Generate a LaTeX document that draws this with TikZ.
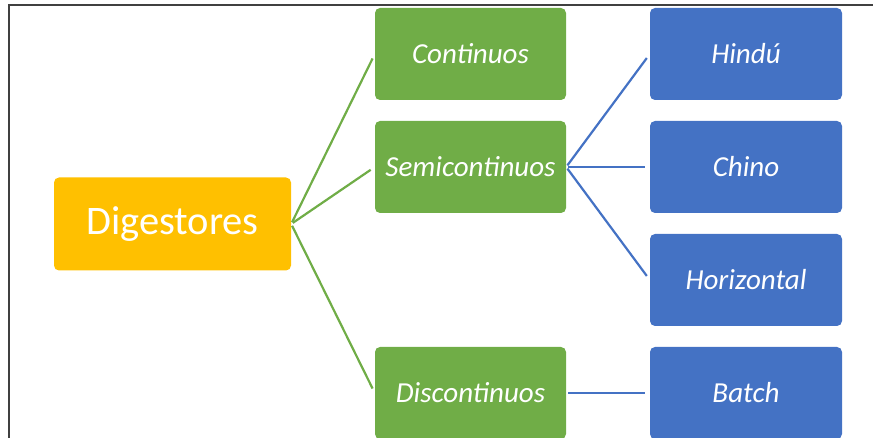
\documentclass[tikz,border=0pt]{standalone}
\usepackage{fontspec}
\setmainfont{Carlito}
\definecolor{orangeC}{HTML}{FFC000}
\definecolor{greenC}{HTML}{70AD47}
\definecolor{blueC}{HTML}{4472C4}
\definecolor{frameC}{HTML}{404040}
\begin{document}
\begin{tikzpicture}[x=1pt,y=-1pt,
  box/.style={rounded corners=5pt, inner sep=0pt, text=white, font=\fontsize{29}{33}\selectfont\itshape},
  rootbox/.style={box, fill=orangeC, minimum width=237pt, minimum height=93pt, font=\fontsize{40.5}{46}\selectfont},
  gbox/.style={box, fill=greenC, minimum width=191pt, minimum height=92pt},
  bbox/.style={box, fill=blueC, minimum width=192pt, minimum height=92pt},
  gline/.style={draw=greenC, line width=2.2pt, shorten <=2pt, shorten >=5pt},
  bline/.style={draw=blueC, line width=2.2pt, shorten <=2pt, shorten >=5pt}]
\useasboundingbox (0,0) rectangle (873,438);
\draw[frameC, line width=2.6pt] (9,438) -- (9,5) -- (873,5);
\node[rootbox] (dig) at (172.5,224) {Digestores};
\node[gbox] (cont) at (470.5,54) {Continuos};
\node[gbox] (semi) at (470.5,167) {Semicontinuos};
\node[gbox] (disc) at (470.5,393) {Discontinuos};
\node[bbox] (hind) at (746,54) {Hindú};
\node[bbox] (chin) at (746,167) {Chino};
\node[bbox] (hori) at (746,280) {Horizontal};
\node[bbox] (batc) at (746,393) {Batch};
\draw[gline] (dig.east) -- (cont.west);
\draw[gline] (dig.east) -- (semi.west);
\draw[gline] (dig.east) -- (disc.west);
\draw[bline] (semi.east) -- (hind.west);
\draw[bline] (semi.east) -- (chin.west);
\draw[bline] (semi.east) -- (hori.west);
\draw[bline] (disc.east) -- (batc.west);
\end{tikzpicture}
\end{document}
